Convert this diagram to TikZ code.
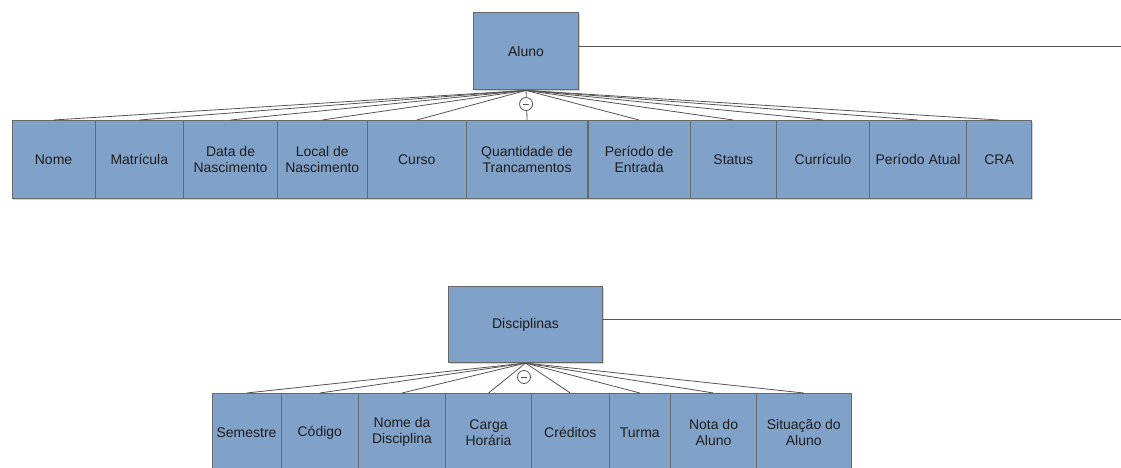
\documentclass[tikz,border=0pt]{standalone}
\usepackage{fontspec}
\setmainfont{Liberation Sans}
\usetikzlibrary{shadows}
\definecolor{boxfill}{RGB}{128,161,200}
\definecolor{boxline}{RGB}{105,105,105}
\definecolor{conn}{RGB}{85,85,85}
\definecolor{txt}{RGB}{30,30,30}
\begin{document}
\begin{tikzpicture}[x=1pt,y=-1pt,
  entbox/.style={draw=boxline,line width=1.1pt,fill=boxfill,inner sep=0pt,
    align=center,text=txt,font=\fontsize{14}{16}\selectfont,
    drop shadow={shadow xshift=1pt,shadow yshift=-1.5pt,opacity=0.35}},
  attbox/.style={entbox,anchor=north west,minimum height=77.5pt},
  conline/.style={draw=conn,line width=0.8pt},
  minuscirc/.style={circle,draw=conn,line width=0.8pt,fill=white,minimum size=13pt,inner sep=0pt}]
\useasboundingbox (0,0) rectangle (1121,468);
\clip (0,0) rectangle (1121,468);
% ---------- Aluno ----------
\node[entbox,minimum width=105pt,minimum height=77pt,anchor=north west] (A) at (473,12.3) {Aluno};
\coordinate (aR) at (1121,46);
\draw[conline] (aR -| A.east) -- (aR);
\node[attbox,minimum width=83pt]   (a1)  at (11.5,120)  {Nome};
\node[attbox,minimum width=88.5pt] (a2)  at (94.5,120)  {Matrícula};
\node[attbox,minimum width=94pt]   (a3)  at (183,120)   {Data de\\Nascimento};
\node[attbox,minimum width=89.5pt] (a4)  at (277,120)   {Local de\\Nascimento};
\node[attbox,minimum width=99.5pt] (a5)  at (366.5,120) {Curso};
\node[attbox,minimum width=121pt]  (a6)  at (466,120)   {Quantidade de\\Trancamentos};
\node[attbox,minimum width=102pt]  (a7)  at (587.5,120) {Período de\\Entrada};
\node[attbox,minimum width=86.5pt] (a8)  at (689.5,120) {Status};
\node[attbox,minimum width=93pt]   (a9)  at (776,120)   {Currículo};
\node[attbox,minimum width=97pt]   (a10) at (869,120)   {Período Atual};
\node[attbox,minimum width=65pt]   (a11) at (966,120)   {CRA};
\foreach \i in {1,...,11}{\draw[conline] (A.south) -- (a\i.north);}
\node[minuscirc] (ac) at (A.south |- 0,104) {};
\draw[conn,line width=0.9pt] ([xshift=-3pt]ac.center) -- ([xshift=3pt]ac.center);
% ---------- Disciplinas ----------
\node[entbox,minimum width=154pt,minimum height=76pt,anchor=north west] (D) at (448,286) {Disciplinas};
\coordinate (dR) at (1121,319.5);
\draw[conline] (dR -| D.east) -- (dR);
\node[attbox,minimum width=69pt]   (d1) at (211.5,393) {Semestre};
\node[attbox,minimum width=77.5pt] (d2) at (280.5,393) {Código};
\node[attbox,minimum width=87pt]   (d3) at (358,393)   {Nome da\\Disciplina};
\node[attbox,minimum width=86pt]   (d4) at (445,393)   {Carga\\Horária};
\node[attbox,minimum width=77.5pt] (d5) at (531,393)   {Créditos};
\node[attbox,minimum width=61.5pt] (d6) at (608.5,393) {Turma};
\node[attbox,minimum width=86pt]   (d7) at (670,393)   {Nota do\\Aluno};
\node[attbox,minimum width=94.5pt] (d8) at (756,393)   {Situação do\\Aluno};
\foreach \i in {1,...,8}{\draw[conline] (D.south) -- (d\i.north);}
\node[minuscirc] (dc) at (524,377) {};
\draw[conn,line width=0.9pt] ([xshift=-3pt]dc.center) -- ([xshift=3pt]dc.center);
\end{tikzpicture}
\end{document}
